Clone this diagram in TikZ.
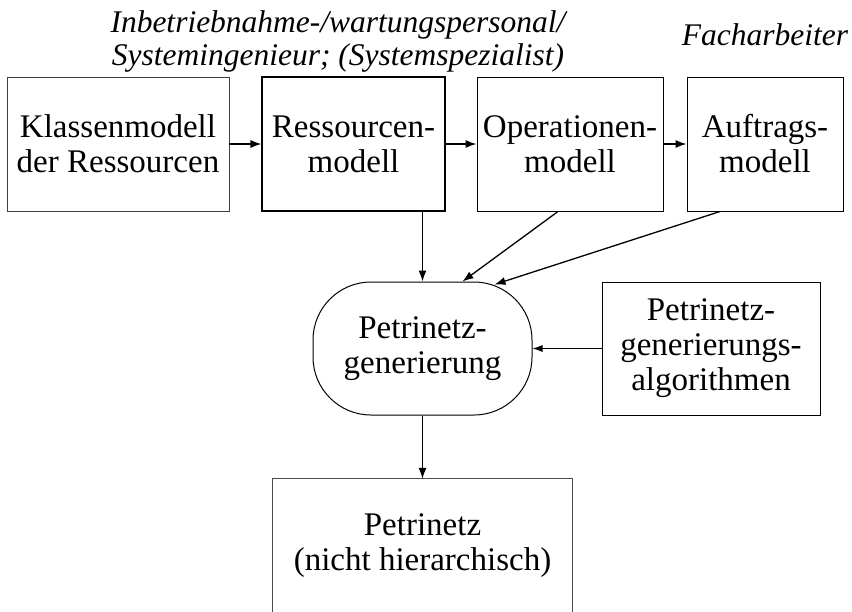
\documentclass[tikz,border=0pt]{standalone}
\usepackage{fontspec}
\setmainfont{Liberation Serif}
\usetikzlibrary{arrows.meta}

\begin{document}
\begin{tikzpicture}[x=1pt,y=-1pt,
    boxtext/.style={font=\fontsize{33}{35}\selectfont, align=center, inner sep=0pt},
    modelbox/.style={boxtext, draw, line width=1pt, minimum height=134pt},
    rolelabel/.style={font=\fontsize{31.5}{33}\selectfont\itshape, align=center, inner sep=0pt},
    flow/.style={line width=1.3pt, -{Latex[length=11pt,width=8pt]}},
    thinflow/.style={line width=0.9pt, -{Latex[length=10pt,width=7pt]}}]

  \useasboundingbox (0,0) rectangle (852,611);

  % Roles responsible for the models (base anchor = last line)
  \node[rolelabel, anchor=base] (role1) at (338,65)
    {Inbetriebnahme-/wartungspersonal/\\Systemingenieur; (Systemspezialist)};
  \node[rolelabel, anchor=base] (role2) at (765,45) {Facharbeiter};

  % Model chain
  \node[modelbox, draw=black!75, line width=0.8pt, minimum width=222pt] (klasse) at (118,144)
    {Klassenmodell\\der Ressourcen};
  \node[modelbox, line width=1.2pt, minimum width=183pt] (ress) at (353.5,144) {Ressourcen-\\modell};
  \node[modelbox, minimum width=186pt] (oper) at (570,144) {Operationen-\\modell};
  \node[modelbox, minimum width=156pt] (auftr) at (765,144) {Auftrags-\\modell};

  % Generation step and its algorithms
  \node[boxtext, draw, line width=1pt, rounded corners=58pt,
        minimum width=219pt, minimum height=133pt] (gen) at (422.5,348.5)
    {Petrinetz-\\generierung};
  \node[modelbox, minimum width=218pt, minimum height=133pt] (alg) at (711,348.5)
    {Petrinetz-\\generierungs-\\algorithmen};

  % Resulting net (box runs past the lower edge)
  \node[boxtext, minimum width=299pt, minimum height=133pt] (net) at (422.5,545.5)
    {Petrinetz\\(nicht hierarchisch)};
  \draw[line width=0.8pt, black!70] (net.south west) -- (net.north west)
    -- (net.north east) -- (net.south east);

  % Connectors
  \draw[flow] (klasse.east) -- (ress.west);
  \draw[flow] (ress.east) -- (oper.west);
  \draw[flow] (oper.east) -- (auftr.west);
  \draw[flow] (gen.north |- ress.south) -- (gen.north);
  \draw[flow] ([xshift=-12pt]oper.south) -- ([xshift=40pt]gen.north);
  \draw[flow] ([xshift=-45pt]auftr.south) -- ([xshift=72pt,yshift=-3pt]gen.north);
  \draw[thinflow] (alg.west) -- (gen.east);
  \draw[flow] (gen.south) -- (net.north);
\end{tikzpicture}
\end{document}
